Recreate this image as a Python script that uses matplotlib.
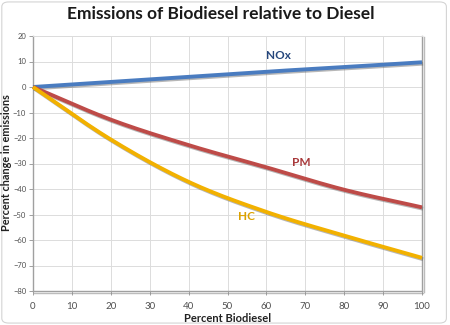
import matplotlib
matplotlib.use("Agg")
import matplotlib.pyplot as plt
import matplotlib.patheffects as pe
from matplotlib.patches import FancyBboxPatch
import numpy as np

# Blend level (percent biodiesel) and emission changes (%)
blend = [0, 20, 40, 60, 80, 100]
nox = [0, 2.0, 4.0, 6.0, 7.8, 9.7]
pm = [0, -12.8, -22.8, -31.5, -40.3, -47.2]
hc = [0, -20.6, -37.2, -49.0, -58.3, -67.0]

x_ticks = list(range(0, 101, 10))
y_ticks = list(range(-80, 21, 10))

plt.rcParams['font.family'] = ['Lato', 'DejaVu Sans']

W, H = 450, 325
fig = plt.figure(figsize=(W / 100, H / 100), dpi=100)
fig.patch.set_facecolor('white')

# Rounded frame around the chart
frame = FancyBboxPatch((0.004, 0.006), 0.988, 0.988,
                       boxstyle="round,pad=0,rounding_size=0.015",
                       transform=fig.transFigure, facecolor='none',
                       edgecolor='#d4d4d4', linewidth=0.8, zorder=-1)
fig.patches.append(frame)

ax = fig.add_axes([33 / W, 1 - 291 / H, (422 - 33) / W, (291 - 36) / H])
ax.set_facecolor('none')
ax.set_xlim(0, 100)
ax.set_ylim(-80, 20)
ax.set_xticks(x_ticks)
ax.set_yticks(y_ticks)
ax.grid(True, color='#dcdcdc', linewidth=0.7)
ax.set_axisbelow(True)

for side in ['left', 'bottom', 'right']:
    ax.spines[side].set_color('#a0a0a0')
    ax.spines[side].set_linewidth(1.0)
ax.spines['top'].set_color('#dcdcdc')
ax.spines['top'].set_linewidth(0.7)
ax.spines['right'].set_path_effects([pe.SimpleLineShadow(offset=(1.2, -1), shadow_color='#909090', alpha=0.6), pe.Normal()])
ax.spines['bottom'].set_path_effects([pe.SimpleLineShadow(offset=(1, -1.2), shadow_color='#909090', alpha=0.6), pe.Normal()])

ax.tick_params(axis='both', colors='#a0a0a0', labelcolor='#505050', length=3, width=0.7)
ax.tick_params(axis='x', labelsize=7, pad=5)
ax.tick_params(axis='y', labelsize=5.5, pad=2)


def smooth(xs, ys, n=200):
    # monotone cubic Hermite interpolation for a smooth curve through points
    xs = np.asarray(xs, float)
    ys = np.asarray(ys, float)
    h = np.diff(xs)
    d = np.diff(ys) / h
    m = np.zeros_like(ys)
    m[0], m[-1] = d[0], d[-1]
    for i in range(1, len(xs) - 1):
        m[i] = (d[i - 1] + d[i]) / 2
    xx = np.linspace(xs[0], xs[-1], n)
    idx = np.clip(np.searchsorted(xs, xx) - 1, 0, len(xs) - 2)
    t = (xx - xs[idx]) / h[idx]
    h00 = 2 * t**3 - 3 * t**2 + 1
    h10 = t**3 - 2 * t**2 + t
    h01 = -2 * t**3 + 3 * t**2
    h11 = t**3 - t**2
    yy = h00 * ys[idx] + h10 * h[idx] * m[idx] + h01 * ys[idx + 1] + h11 * h[idx] * m[idx + 1]
    return xx, yy


shadow = [pe.SimpleLineShadow(offset=(0.8, -1.0), shadow_color='#606060', alpha=0.45), pe.Normal()]
series = [(nox, '#4a7cc0'), (pm, '#be4b48'), (hc, '#f2b100')]
for ys, col in series:
    xx, yy = smooth(blend, ys)
    ax.plot(xx, yy, color=col, linewidth=2.8, solid_capstyle='butt',
            path_effects=shadow, zorder=3, clip_on=False)

ax.text(63.2, 12.5, 'NOx', color='#24467c', fontsize=8.5, fontweight='bold', ha='center', va='center')
ax.text(69, -29.8, 'PM', color='#a8383a', fontsize=8.5, fontweight='bold', ha='center', va='center')
ax.text(54.8, -50.8, 'HC', color='#dca200', fontsize=8.5, fontweight='bold', ha='center', va='center')

# Axis titles
fig.text(228 / W, 1 - 318 / H, 'Percent Biodiesel', ha='center', va='center',
         fontsize=8, fontweight='bold', color='#222222')
fig.text(6.5 / W, 1 - 163 / H, 'Percent change in emissions', ha='center', va='center',
         rotation=90, fontsize=7.8, fontweight='bold', color='#222222')

fig.text(0.49, 1 - 14 / H, 'Emissions of Biodiesel relative to Diesel', ha='center', va='center',
         fontsize=12.5, fontweight='bold', color='#1a1a1a')

fig.savefig('out.png', dpi=100, facecolor='white')
